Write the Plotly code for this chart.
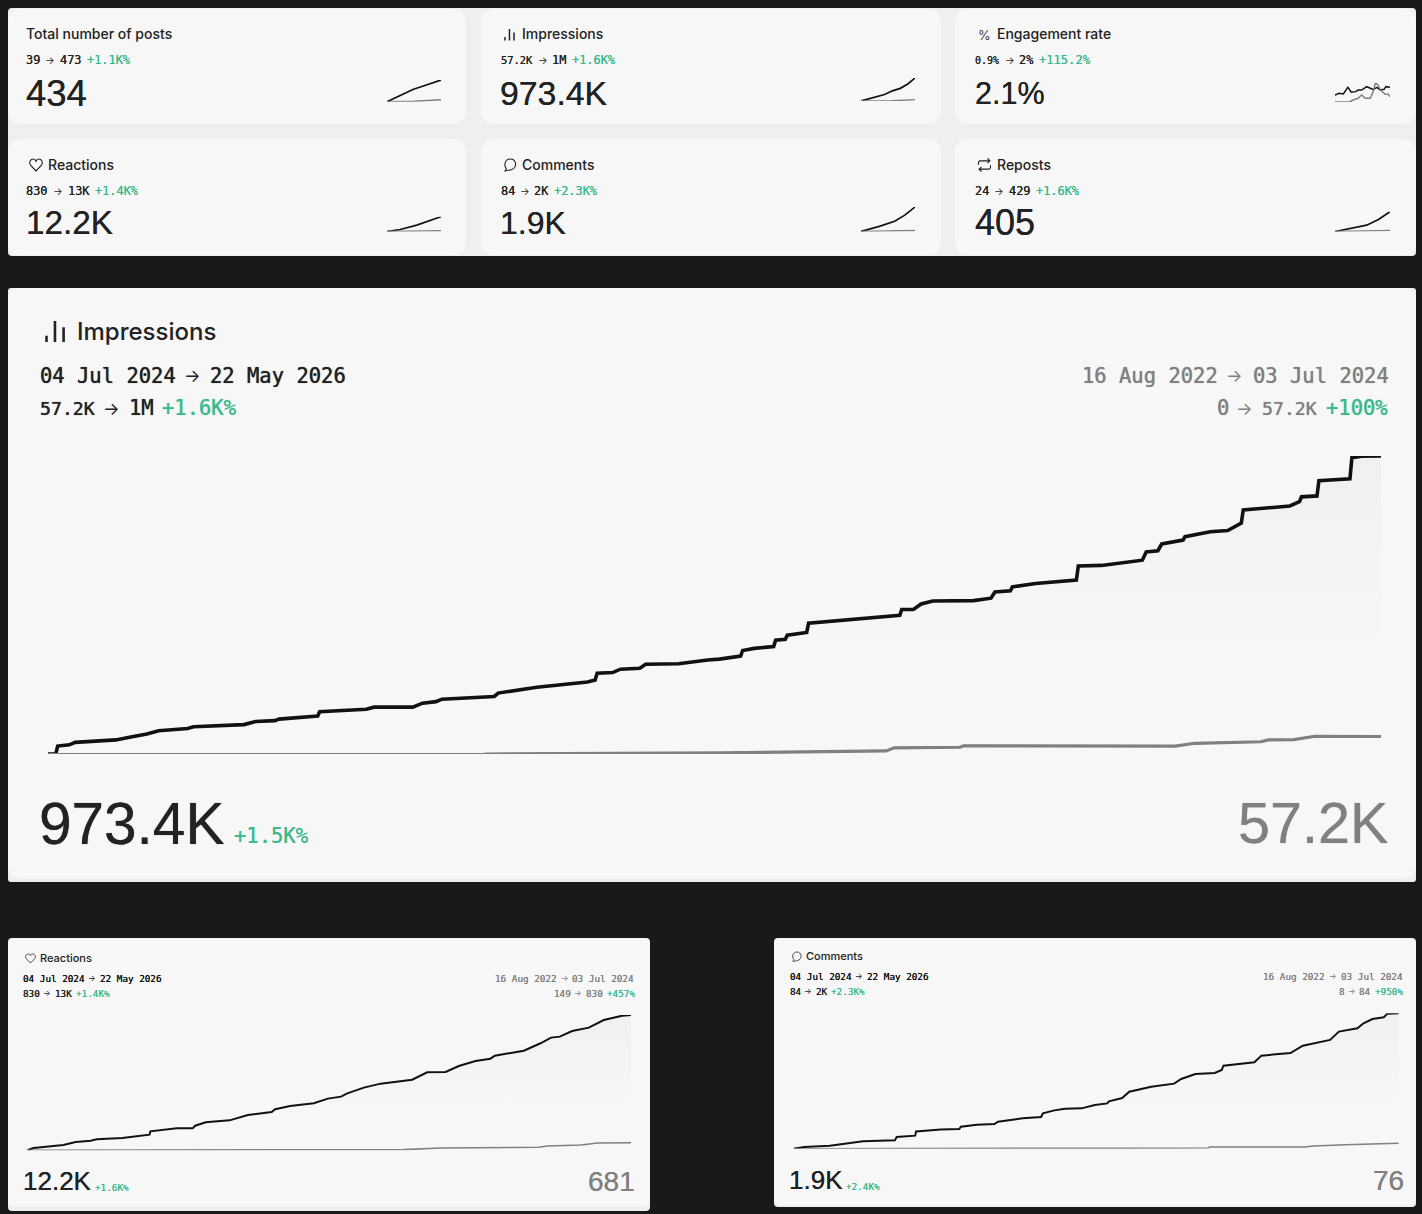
import plotly.graph_objects as go

W = 1422
H = 1214
DARK = '#191919'
CARD = '#f7f7f7'
GROUP = '#efefef'
INK = '#222222'
GREY = '#808080'
GREEN = '#3cb98b'
SANS = 'Inter'
BIG = 'Liberation Sans'
MONO = 'DejaVu Sans Mono'

# day in the period (0 = first day, 687 = last day)
imp_days = [0, 4, 5, 11, 14, 35, 42, 51, 57, 72, 75, 101, 107, 117, 119, 139, 140, 164, 168, 188, 193, 200, 203, 230, 232,
            252, 278, 282, 283, 291, 295, 305, 308, 325, 340, 346, 357, 358, 364, 374, 375, 380, 381, 391, 392, 406, 425,
            439, 440, 446, 450, 456, 477, 486, 488, 496, 497, 509, 530, 531, 543, 564, 566, 572, 574, 585, 586, 599, 608,
            615, 616, 640, 645, 646, 654, 655, 671, 672, 677, 687]
# impressions, thousands
imp_now = [0, 0, 26, 30, 38, 46, 55, 65, 76, 83, 89, 96, 106, 109, 114, 124, 138, 146, 153, 153, 166, 171, 179, 188, 199,
           218, 235, 242, 264, 266, 277, 280, 293, 295, 307, 310, 320, 338, 345, 351, 372, 375, 388, 397, 427, 435, 445,
           453, 472, 472, 490, 500, 501, 509, 529, 533, 546, 557, 568, 614, 616, 633, 660, 664, 686, 699, 710, 726, 730,
           754, 797, 810, 824, 840, 843, 893, 899, 968, 973, 973.4]
imp_prev_days = [0, 225, 348, 432, 436, 470, 472, 581, 591, 625, 629, 642, 653, 687]
imp_prev = [0, 0, 4, 10, 20, 22, 27, 26, 35, 40, 46, 47, 58, 57.2]

rea_days = [0, 7, 41, 55, 72, 79, 108, 139, 140, 170, 188, 191, 203, 230, 251, 278, 282, 299, 326, 342, 357, 364, 383, 402,
            438, 455, 476, 491, 510, 527, 532, 565, 584, 596, 606, 620, 639, 656, 677, 687]
rea_now = [0, 0.21, 0.48, 0.75, 0.87, 0.99, 1.11, 1.41, 1.71, 1.98, 1.98, 2.22, 2.52, 2.70, 3.19, 3.46, 3.70, 4.00, 4.24,
           4.66, 4.84, 5.14, 5.65, 6.01, 6.37, 7.03, 7.06, 7.60, 8.05, 8.26, 8.53, 8.98, 9.65, 10.16, 10.25, 10.76, 11.06,
           11.75, 12.14, 12.2]
rea_prev_days = [0, 208, 428, 471, 582, 592, 630, 649, 687]
rea_prev = [0, 0.03, 0.06, 0.21, 0.27, 0.39, 0.48, 0.66, 0.68]

com_days = [0, 12, 41, 79, 115, 117, 138, 139, 167, 188, 190, 208, 228, 232, 260, 281, 283, 296, 308, 327, 342, 356, 358,
            373, 381, 406, 432, 440, 456, 478, 486, 488, 523, 531, 564, 578, 609, 619, 640, 647, 657, 670, 674, 687]
com_now = [0, 23, 42, 103, 117, 164, 183, 243, 271, 276, 309, 337, 346, 379, 426, 445, 496, 538, 562, 566, 613, 636, 665,
           711, 800, 870, 913, 978, 1048, 1062, 1104, 1165, 1212, 1306, 1343, 1446, 1526, 1643, 1689, 1760, 1820, 1844,
           1895, 1900]
com_prev_days = [0, 213, 471, 472, 580, 590, 626, 687]
com_prev = [0, 0, 9, 23, 23, 37, 56, 76]

# sparklines
posts_days = [0, 126, 232, 337, 463, 687]
posts_now = [0, 87, 165, 248, 315, 434]
posts_prev_days = [0, 340, 687]
posts_prev = [0, 10, 39]

spark_imp_days = [0, 100, 200, 300, 400, 500, 600, 687]
spark_imp_now = [0, 96, 171, 277, 430, 535, 730, 973]
spark_imp_prev_days = [0, 400, 687]
spark_imp_prev = [0, 12, 57]

eng_days = [0, 52, 104, 160, 203, 259, 289, 333, 397, 441, 475, 527, 562, 613, 635, 687]
eng_now = [1.38, 1.5, 1.45, 1.95, 1.58, 1.63, 1.75, 1.75, 2.0, 1.88, 1.8, 1.95, 1.75, 1.8, 2.0, 1.95]
eng_prev_days = [0, 181, 225, 289, 333, 376, 441, 484, 505, 536, 570, 622, 665, 687]
eng_prev = [0.85, 0.85, 1.0, 1.13, 1.38, 1.13, 1.13, 1.75, 2.3, 2.13, 1.75, 1.45, 1.43, 1.25]

spark_rea_days = [0, 168, 379, 547, 687]
spark_rea_now = [0, 1.66, 5.26, 8.86, 12.2]
spark_rea_prev_days = [0, 687]
spark_rea_prev = [0, 0.68]

spark_com_days = [0, 233, 428, 557, 687]
spark_com_now = [0, 396, 792, 1267, 1900]
spark_com_prev_days = [0, 687]
spark_com_prev = [0, 76]

rep_days = [0, 185, 396, 543, 687]
rep_now = [0, 62, 130, 247, 405]
rep_prev_days = [0, 687]
rep_prev = [0, 24]


def px(x):
    return x / W


def py(y):
    return 1 - y / H


def card(x0, y0, x1, y1, r, color):
    path = (f'M {px(x0 + r)},{py(y0)} L {px(x1 - r)},{py(y0)} Q {px(x1)},{py(y0)} {px(x1)},{py(y0 + r)} '
            f'L {px(x1)},{py(y1 - r)} Q {px(x1)},{py(y1)} {px(x1 - r)},{py(y1)} L {px(x0 + r)},{py(y1)} '
            f'Q {px(x0)},{py(y1)} {px(x0)},{py(y1 - r)} L {px(x0)},{py(y0 + r)} Q {px(x0)},{py(y0)} {px(x0 + r)},{py(y0)} Z')
    return dict(type='path', xref='paper', yref='paper', path=path, fillcolor=color, line_width=0, layer='below')


def icon(unit_path, x, y, w, h, lw=1):
    out = []
    for tok in unit_path.split():
        if ',' in tok:
            a, b = tok.split(',')
            out.append(f'{px(x + float(a) * w)},{py(y + float(b) * h)}')
        else:
            out.append(tok)
    return dict(type='path', xref='paper', yref='paper', path=' '.join(out), line=dict(color=INK, width=lw))


BARS = 'M 0,0.7 L 0,1 M 0.47,0 L 0.47,1 M 0.95,0.3 L 0.95,1'
HEART = ('M 0.5,1 L 0.08,0.52 C -0.1,0.25 0.1,0 0.28,0 C 0.4,0 0.47,0.08 0.5,0.18 '
         'C 0.53,0.08 0.6,0 0.72,0 C 0.9,0 1.1,0.25 0.92,0.52 Z')
BUBBLE = ('M 0.1,1 L 0.2,0.78 C -0.05,0.5 0.1,0 0.55,0 C 1.05,0 1.15,0.6 0.8,0.82 '
          'C 0.6,0.95 0.4,0.92 0.1,1 Z')
REPOST = ('M 0,0.48 L 0,0.3 Q 0,0.18 0.15,0.18 L 0.95,0.18 M 0.75,0 L 0.95,0.18 L 0.75,0.36 '
          'M 1,0.52 L 1,0.7 Q 1,0.82 0.85,0.82 L 0.05,0.82 M 0.25,0.64 L 0.05,0.82 L 0.25,1')

shapes = [
    card(8, 8, 1416, 256, 4, GROUP),
    card(8, 9, 466, 124, 14, CARD), card(481, 9, 941, 124, 14, CARD), card(955, 9, 1416, 124, 14, CARD),
    card(8, 139, 466, 255, 14, CARD), card(481, 139, 941, 255, 14, CARD), card(955, 139, 1416, 255, 14, CARD),
    card(8, 288, 1416, 882, 3, GROUP),
    card(8, 288, 1416, 878.5, 14, CARD),
    card(8, 938, 650, 1211, 4, GROUP),
    card(8, 938, 650, 1206.5, 8, CARD),
    card(774, 938, 1416, 1207, 4, GROUP),
    card(774, 938, 1416, 1205, 8, CARD),
    icon(BARS, 505, 29, 9.5, 11.5, 1.5),
    icon(HEART, 29.5, 159, 13, 12, 1.1),
    icon(BUBBLE, 504, 159, 11.5, 12, 1.1),
    icon(REPOST, 978.5, 158.5, 12, 13, 1.1),
    icon(BARS, 46.5, 321, 18, 21, 2.6),
    icon(HEART, 25.5, 954, 10, 9, 0.8),
    icon(BUBBLE, 792, 952, 9, 9.5, 0.8),
]

annotations = []


def text(x, y, s, size, font=SANS, color=INK, anchor='left', weight=400, soft=0):
    f = dict(family=font, size=size, color=color, weight=weight)
    if soft:
        f['shadow'] = f'0 0 {soft}px {color}'
    annotations.append(dict(x=px(x), y=py(y), xref='paper', yref='paper', text=s, showarrow=False, xanchor=anchor,
                            yanchor='middle', font=f, borderpad=0, borderwidth=0))


def seg(y, size, parts, soft=0.4):
    # a line of mono text, each piece placed where it sits in the picture
    for p in parts:
        x, s, color = p[:3]
        if s == '→':
            text(x - size * 0.08, y, s, size * 0.85, SANS, color)
        else:
            text(x, y, s, p[3] if len(p) > 3 else size, MONO, color, soft=soft)


# small cards
titles = [(26, 34, 'Total number of posts'), (522, 34, 'Impressions'), (997, 34, 'Engagement rate'),
          (48, 164, 'Reactions'), (522, 164, 'Comments'), (997, 164, 'Reposts')]
for x, y, name in titles:
    text(x, y, name, 14, weight=500)

values = [(25.5, 93, '434', 36.5), (500, 93, '973.4K', 33.8), (974.5, 93, '2.1%', 30.5),
          (25.5, 223, '12.2K', 33.3), (500, 223, '1.9K', 32), (974.5, 223, '405', 36)]
for x, y, val, size in values:
    text(x, y, val, size, BIG, soft=0.6)

text(978, 34.5, '%', 13, SANS, '#444444')

seg(60.5, 11.9, [(26, '39', INK), (46, '→', INK), (60, '473', INK), (87, '+1.1K%', GREEN)])
seg(60.5, 11.9, [(501, '57.2K', INK, 10.4), (539, '→', INK), (552, '1M', INK), (572, '+1.6K%', GREEN)])
seg(60.5, 11.9, [(975, '0.9%', INK, 10), (1005.5, '→', INK), (1019, '2%', INK), (1039, '+115.2%', GREEN, 12.1)])
seg(190.5, 11.9, [(26, '830', INK), (54, '→', INK), (68, '13K', INK), (95, '+1.4K%', GREEN)])
seg(190.5, 11.9, [(501, '84', INK), (521, '→', INK), (534, '2K', INK), (554, '+2.3K%', GREEN)])
seg(190.5, 11.9, [(975, '24', INK), (995, '→', INK), (1008.5, '429', INK), (1036, '+1.6K%', GREEN)])

# main card
text(77, 331, 'Impressions', 24, weight=500)
seg(375.5, 20.5, [(40, '04 Jul 2024', INK), (186, '→', INK), (210, '22 May 2026', INK),
                  (1082, '16 Aug 2022', GREY), (1228, '→', GREY), (1252.5, '03 Jul 2024', GREY)], soft=0.8)
seg(408.5, 20.5, [(40, '57.2K', INK, 18.2), (105, '→', INK), (129, '1M', INK), (162, '+1.6K%', GREEN),
                  (1217, '0', GREY), (1238, '→', GREY), (1262, '57.2K', GREY, 18.2), (1326, '+100%', GREEN)], soft=0.8)
text(39, 823, '973.4K', 58.5, BIG, soft=0.8)
text(234, 836, '+1.5K%', 20.5, MONO, GREEN, soft=0.6)
text(1388, 823, '57.2K', 57.5, BIG, GREY, 'right', soft=0.8)

# lower cards
text(40, 958, 'Reactions', 11, weight=500)
seg(978, 9.3, [(23, '04 Jul 2024', '#111111'), (89, '→', '#111111'), (100, '22 May 2026', '#111111'),
               (495, '16 Aug 2022', GREY), (562, '→', GREY), (572, '03 Jul 2024', GREY)], soft=0.3)
seg(993, 9.3, [(23, '830', INK), (44, '→', INK), (55, '13K', INK), (76, '+1.4K%', GREEN),
               (553.5, '149', GREY), (574.5, '→', GREY), (585.5, '830', GREY), (606.5, '+457%', GREEN)], soft=0.3)
text(22.5, 1181, '12.2K', 26, BIG, soft=0.4)
text(95, 1187, '+1.6K%', 9.3, MONO, GREEN, soft=0.3)
text(635, 1181, '681', 28, BIG, GREY, 'right', soft=0.4)

text(806, 956, 'Comments', 11, weight=500)
seg(976, 9.3, [(789.5, '04 Jul 2024', '#111111'), (855.5, '→', '#111111'), (866.5, '22 May 2026', '#111111'),
               (1262.5, '16 Aug 2022', GREY), (1330, '→', GREY), (1340.5, '03 Jul 2024', GREY)], soft=0.3)
seg(991, 9.3, [(789.5, '84', INK), (805, '→', INK), (815.5, '2K', INK), (831, '+2.3K%', GREEN),
               (1338.5, '8', GREY), (1348.5, '→', GREY), (1359, '84', GREY), (1374.5, '+950%', GREEN)], soft=0.3)
text(788.5, 1180, '1.9K', 26, BIG, soft=0.4)
text(846, 1186, '+2.4K%', 9.3, MONO, GREEN, soft=0.3)
text(1403.5, 1180, '76', 28, BIG, GREY, 'right', soft=0.4)

fig = go.Figure()
layout_axes = {}
n = 0


def chart(x0, x1, ytop, ybase, ymin, ymax, days, now, prev_days, prev, lw, lw2, fade=None):
    global n
    n += 1
    xa = 'x' if n == 1 else f'x{n}'
    ya = 'y' if n == 1 else f'y{n}'
    now_trace = dict(x=days, y=now, mode='lines', line=dict(color='#111111', width=lw), xaxis=xa, yaxis=ya,
                     hoverinfo='skip', showlegend=False, cliponaxis=False)
    if fade is not None:
        now_trace['fill'] = 'tozeroy'
        now_trace['fillgradient'] = dict(type='vertical', start=fade, stop=ymax,
                                         colorscale=[[0, CARD], [1, '#f0f0f0']])
    fig.add_trace(go.Scatter(**now_trace))
    fig.add_trace(go.Scatter(x=prev_days, y=prev, mode='lines', line=dict(color=GREY, width=lw2), xaxis=xa, yaxis=ya,
                             hoverinfo='skip', showlegend=False, cliponaxis=False))
    xname = 'xaxis' if n == 1 else f'xaxis{n}'
    yname = 'yaxis' if n == 1 else f'yaxis{n}'
    layout_axes[xname] = dict(domain=[px(x0), px(x1)], range=[0, 687], visible=False, anchor=ya)
    layout_axes[yname] = dict(domain=[py(ybase), py(ytop)], range=[ymin, ymax], visible=False, anchor=xa)


# Main and lower charts
chart(48, 1381, 456, 754, 0, 973.4, imp_days, imp_now, imp_prev_days, imp_prev, 3.6, 1.8, fade=340)
# the grey line is heavier once it lifts off the baseline
fig.add_trace(go.Scatter(x=imp_prev_days[1:], y=imp_prev[1:], mode='lines', line=dict(color=GREY, width=3.2), xaxis='x',
                         yaxis='y', hoverinfo='skip', showlegend=False, cliponaxis=False))
chart(27.4, 631, 1015, 1150.3, 0, 12.2, rea_days, rea_now, rea_prev_days, rea_prev, 2, 1.6, fade=4)
chart(793.6, 1398.8, 1013.3, 1148.7, 0, 1900, com_days, com_now, com_prev_days, com_prev, 2, 1.6, fade=600)

# Sparklines
chart(387, 441, 80, 101.7, 0, 434, posts_days, posts_now, posts_prev_days, posts_prev, 1.7, 1.4)
chart(861, 915, 78, 101, 0, 973, spark_imp_days, spark_imp_now, spark_imp_prev_days, spark_imp_prev, 1.7, 1.4)
chart(1335, 1390, 82.7, 102, 0.85, 2.3, eng_days, eng_now, eng_prev_days, eng_prev, 1.5, 1.5)
chart(387, 441, 216.7, 231.5, 0, 12.2, spark_rea_days, spark_rea_now, spark_rea_prev_days, spark_rea_prev, 1.7, 1.4)
chart(861, 915, 207, 231.5, 0, 1900, spark_com_days, spark_com_now, spark_com_prev_days, spark_com_prev, 1.7, 1.4)
chart(1335, 1390, 211.7, 231.5, 0, 405, rep_days, rep_now, rep_prev_days, rep_prev, 1.7, 1.4)

fig.update_layout(width=W, height=H, margin=dict(l=0, r=0, t=0, b=0, pad=0), paper_bgcolor=DARK, plot_bgcolor='rgba(0,0,0,0)',
                  shapes=shapes, annotations=annotations, showlegend=False, **layout_axes)

fig.write_html("out.html", config={'displayModeBar': False},
               post_script="document.body.style.margin='0';document.body.style.background='#191919';")
